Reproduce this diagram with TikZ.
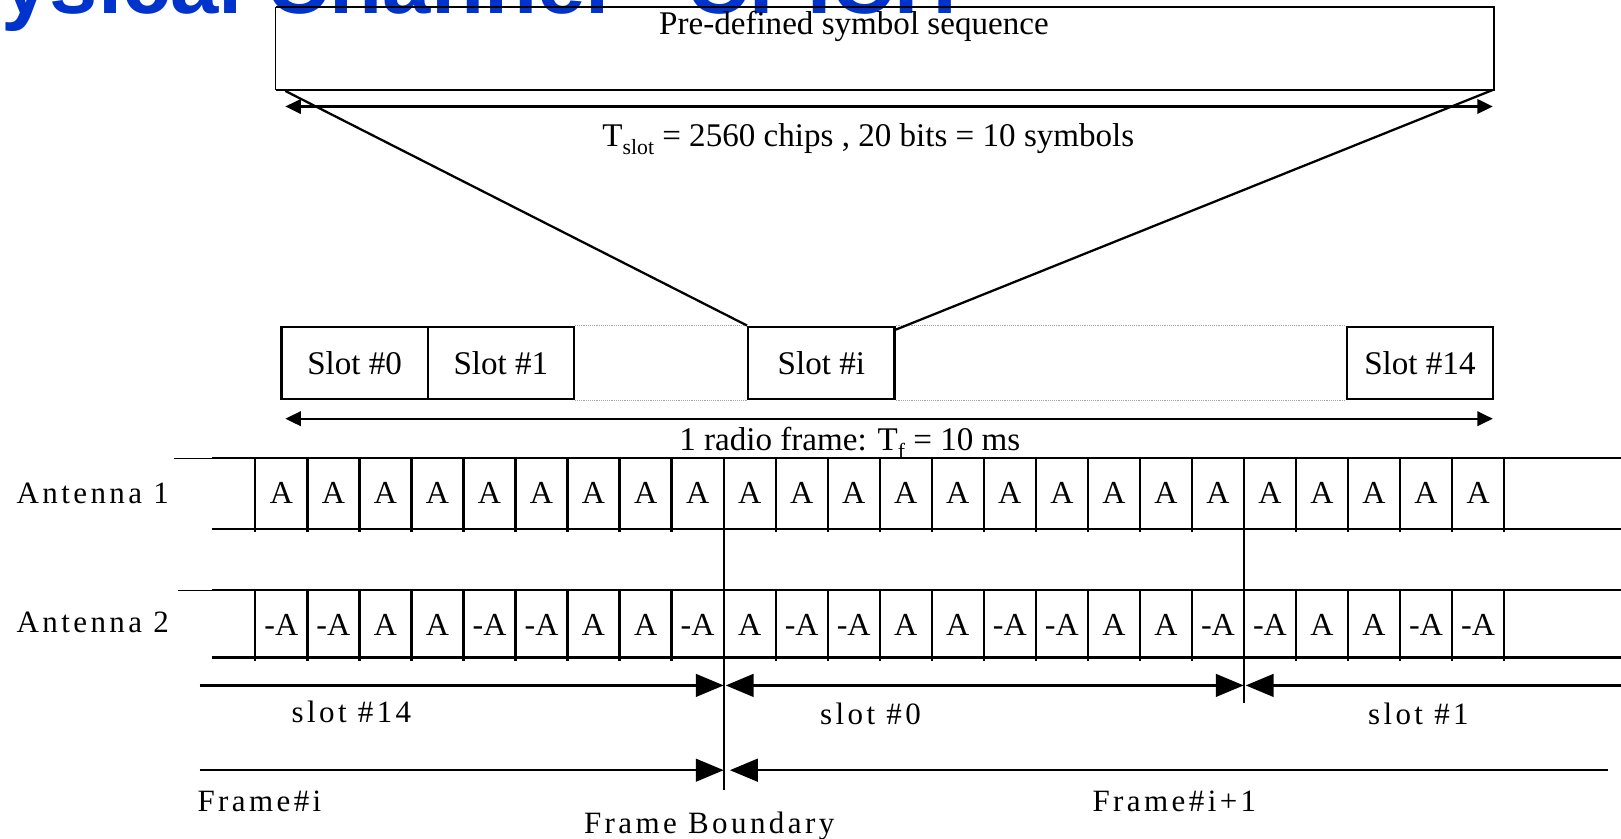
\documentclass[tikz,border=0pt]{standalone}
\usepackage{fontspec}
\setmainfont{Liberation Serif}
\newfontfamily\spaced[LetterSpace=11]{Liberation Serif}
\newfontfamily\titlefont{Liberation Sans}
\usetikzlibrary{arrows.meta}
\definecolor{titleblue}{RGB}{0,51,204}
\newcommand\lowsub[1]{\raisebox{-0.22em}{\fontsize{21}{21}\selectfont #1}}
\tikzset{
  smalltip/.tip={Triangle[length=15pt,width=14pt]},
  bigtip/.tip={Triangle[length=27pt,width=22pt]}
}
\begin{document}
\begin{tikzpicture}[x=1pt,y=-1pt,line width=2.2pt,
  txt/.style={font=\fontsize{32}{38}\selectfont, inner sep=0},
  cell/.style={font=\fontsize{31}{36}\selectfont, inner sep=0},
  lbl/.style={font=\spaced\fontsize{30}{35}\selectfont, inner sep=0},
  slotbox/.style={draw, minimum width=141.5pt, minimum height=70pt, inner sep=0, font=\fontsize{32}{36}\selectfont},
  thinline/.style={line width=0.9pt},
  dotline/.style={densely dotted, line width=0.8pt, gray!70}
]
\useasboundingbox (0,0) rectangle (1568,811);
\clip (0,0) rectangle (1568,811);

% title (cut by page top)
\node[anchor=base west, inner sep=0, text=titleblue,
      font=\titlefont\bfseries\fontsize{84}{90}\selectfont] (title) at (-107,13) {Physical Channel - CPICH};

% pre-defined symbol sequence box
\node[minimum width=1176pt, minimum height=78pt, inner sep=0] (seq) at (856,47) {};
\draw (seq.north west) -- (seq.north east) -- (seq.south east) -- (seq.south west);
\draw[thinline] (seq.south west) -- (seq.north west);
\node[txt, anchor=base] (seqtxt) at (826,33) {Pre-defined symbol sequence};

% T_slot arrow
\coordinate (ta) at (276,103);
\coordinate (tb) at (1444,103);
\draw[smalltip-smalltip] (ta) -- (tb);
\node[txt, anchor=base] (tslot) at (840,142) {T\lowsub{slot} = 2560 chips , 20 bits = 10 symbols};

% slot row
\node[slotbox] (s0) at (343,351) {Slot \#0};
\node[slotbox] (s1) at (484.5,351) {Slot \#1};
\node[slotbox] (si) at (794.5,351) {Slot \#i};
\node[slotbox] (s14) at (1373.5,351) {Slot \#14};
\draw[dotline] (s1.north east) -- (si.north west);
\draw[dotline] (s1.south east) -- (si.south west);
\draw[dotline] (si.north east) -- (s14.north west);
\draw[dotline] (si.south east) -- (s14.south west);

% fan lines
\coordinate (fanL) at (276,88);
\coordinate (fanR) at (1444,87);
\draw (fanL) -- (si.north west);
\draw (fanR) -- ([yshift=-4pt]si.north east);

% radio frame arrow
\coordinate (ra) at (276,405);
\coordinate (rb) at (1444,405);
\draw[smalltip-smalltip] (ra) -- (rb);
\node[txt, anchor=base] (rf) at (822,436) {1 radio frame: T\lowsub{f} = 10 ms};

% antenna rows
\draw[thinline] (168,443) -- (205,443);
\draw (205,443) -- (1568,443);
\draw (205,512) -- (1568,512);
\draw[thinline] (172,571) -- (205,571);
\draw (205,571) -- (1568,571);
\draw (205,636) -- (1568,636);
\foreach \i in {0,...,24} {
  \draw ({247+50.33*\i},443) -- ({247+50.33*\i},515);
  \draw ({247+50.33*\i},571) -- ({247+50.33*\i},639);
}
\foreach \i in {0,...,23}
  \node[cell] (aone\i) at ({247+50.33*(\i+0.5)},477) {A};
\foreach \s [count=\i from 0] in {-A,-A,A,A,-A,-A,A,A,-A,A,-A,-A,A,A,-A,-A,A,A,-A,-A,A,A,-A,-A}
  \node[cell] (atwo\i) at ({247+50.33*(\i+0.5)},604) {\s};

\node[lbl, anchor=base west] (ant1) at (15,487) {Antenna 1};
\node[lbl, anchor=base west] (ant2) at (15,612) {Antenna 2};

% boundaries
\coordinate (b1top) at (700,512);
\coordinate (b1bot) at (700,764);
\coordinate (b2top) at (1203,512);
\coordinate (b2bot) at (1203,680);
\draw (b1top) -- (b1bot);
\draw (b2top) -- (b2bot);

% slot arrows
\coordinate (sl0) at (193,663);
\coordinate (sl1) at (700,663);
\coordinate (sl2) at (702,663);
\coordinate (sl3) at (1203,663);
\coordinate (sl4) at (1205,663);
\coordinate (sl5) at (1568,663);
\draw[-bigtip] (sl0) -- (sl1);
\draw[bigtip-bigtip] (sl2) -- (sl3);
\draw[-bigtip] (sl5) -- (sl4);

% frame arrows
\coordinate (fr0) at (193,745);
\coordinate (fr1) at (700,745);
\coordinate (fr2) at (706,745);
\coordinate (fr3) at (1555,745);
\draw[-bigtip] (fr0) -- (fr1);
\draw[-bigtip] (fr3) -- (fr2);

% labels
\node[lbl, anchor=base] (l14) at (340,699) {slot \#14};
\node[lbl, anchor=base] (l0) at (842,701) {slot \#0};
\node[lbl, anchor=base] (l1) at (1372,701) {slot \#1};
\node[lbl, anchor=base west] (fi) at (190,785) {Frame\#i};
\node[lbl, anchor=base] (fi1) at (1136,785) {Frame\#i+1};
\node[lbl, anchor=base] (fb) at (686,806) {Frame Boundary};
\end{tikzpicture}
\end{document}
